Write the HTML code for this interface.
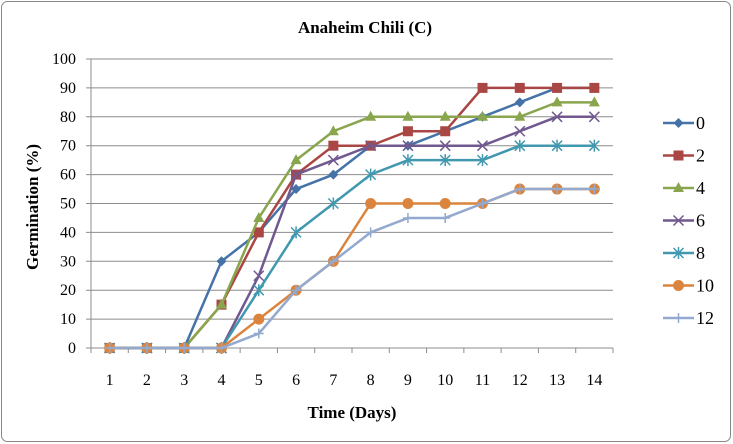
<!DOCTYPE html>
<html><head><meta charset="utf-8"><style>
html,body{margin:0;padding:0;background:#fff;}
svg{display:block;font-family:"Liberation Serif",serif;}
</style></head><body>
<svg id="chart" width="733" height="444" viewBox="0 0 733 444" xmlns="http://www.w3.org/2000/svg">
<rect x="1.5" y="1.5" width="729" height="440" rx="6" fill="#fff" stroke="#888" stroke-width="1"/>
<text x="365" y="33" text-anchor="middle" font-size="17" font-weight="bold">Anaheim Chili (C)</text>
<text transform="translate(38,207) rotate(-90)" text-anchor="middle" font-size="17" font-weight="bold">Germination (%)</text>
<text x="352" y="418" text-anchor="middle" font-size="17" font-weight="bold">Time (Days)</text>
<g id="grid"></g><g id="axes"></g><g id="series"></g><g id="legend"></g>
</svg>
<script>
const days = [1,2,3,4,5,6,7,8,9,10,11,12,13,14];
const yTicks = [0,10,20,30,40,50,60,70,80,90,100];
const seriesNames = ["0","2","4","6","8","10","12"];
const s0  = [0,0,0,30,40,55,60,70,70,75,80,85,90,90];
const s2  = [0,0,0,15,40,60,70,70,75,75,90,90,90,90];
const s4  = [0,0,0,15,45,65,75,80,80,80,80,80,85,85];
const s6  = [0,0,0,0,25,60,65,70,70,70,70,75,80,80];
const s8  = [0,0,0,0,20,40,50,60,65,65,65,70,70,70];
const s10 = [0,0,0,0,10,20,30,50,50,50,50,55,55,55];
const s12 = [0,0,0,0,5,20,30,40,45,45,50,55,55,55];
const allSeries = [s0,s2,s4,s6,s8,s10,s12];
const colors = ["#4572A7","#AA4643","#89A54E","#71588F","#4198AF","#DB843D","#93A9CF"];
const markers = ["diamond","square","triangle","x","star","circle","plus"];

const NS="http://www.w3.org/2000/svg";
const X0=91, X1=613, Y0=348, Y1=59;
const step=(X1-X0)/days.length;
function xPos(i){return X0+step*(i+0.5);}
function yPos(v){return Y0-(v/100)*(Y0-Y1);}
function mk(tag,attrs,parent){const e=document.createElementNS(NS,tag);for(const k in attrs)e.setAttribute(k,attrs[k]);parent.appendChild(e);return e;}

const grid=document.getElementById('grid');
yTicks.forEach(t=>{
  const y=yPos(t);
  if(t>0){const l=mk('line',{x1:X0-5,x2:X1,y1:y,y2:y,stroke:'#8c8c8c','stroke-width':1},grid);
  
  }
  const tx=mk('text',{x:76,y:y+5,'text-anchor':'end','font-size':16},grid);
  tx.textContent=t;
  
  
});
const axes=document.getElementById('axes');
const ya=mk('line',{x1:X0,x2:X0,y1:Y1,y2:Y0,stroke:'#8c8c8c','stroke-width':1},axes);


const xa=mk('line',{x1:X0-5,x2:X1,y1:Y0,y2:Y0,stroke:'#8c8c8c','stroke-width':1},axes);


for(let i=0;i<=days.length;i++){
  const x=X0+step*i;
  const tk=mk('line',{x1:x,x2:x,y1:Y0,y2:Y0+5,stroke:'#8c8c8c'},axes);
  
  
}
days.forEach((d,i)=>{
  const t=mk('text',{x:xPos(i),y:385,'text-anchor':'middle','font-size':16},axes);
  t.textContent=d;
  
  
});

function marker(type,x,y,c,parent){
  const g=mk('g',{},parent);
  if(type==='diamond')mk('polygon',{points:`${x},${y-5} ${x+5},${y} ${x},${y+5} ${x-5},${y}`,fill:c},g);
  else if(type==='square')mk('rect',{x:x-5,y:y-5,width:10,height:10,fill:c},g);
  else if(type==='triangle')mk('polygon',{points:`${x},${y-6} ${x+5.5},${y+4} ${x-5.5},${y+4}`,fill:c},g);
  else if(type==='x'){mk('path',{d:`M${x-5} ${y-5}L${x+5} ${y+5}M${x-5} ${y+5}L${x+5} ${y-5}`,stroke:c,'stroke-width':1.5},g);}
  else if(type==='star'){mk('path',{d:`M${x-5} ${y-5}L${x+5} ${y+5}M${x-5} ${y+5}L${x+5} ${y-5}M${x} ${y-6}L${x} ${y+6}`,stroke:c,'stroke-width':1.5},g);}
  else if(type==='circle')mk('circle',{cx:x,cy:y,r:5.5,fill:c},g);
  else if(type==='plus'){mk('path',{d:`M${x-5} ${y}L${x+5} ${y}M${x} ${y-5}L${x} ${y+5}`,stroke:c,'stroke-width':1.5},g);}
  return g;
}
const sg=document.getElementById('series');
allSeries.forEach((vals,si)=>{
  const g=mk('g',{},sg);
  
  
  const pts=vals.map((v,i)=>xPos(i)+','+yPos(v)).join(' ');
  const pl=mk('polyline',{points:pts,fill:'none',stroke:colors[si],'stroke-width':2.5},g);
  
  
  vals.forEach((v,i)=>{
    const m=marker(markers[si],xPos(i),yPos(v),colors[si],g);
    
    
  });
});
const lg=document.getElementById('legend');
seriesNames.forEach((n,si)=>{
  const y=123+si*32.5;
  const g=mk('g',{},lg);
  
  
  mk('line',{x1:663,x2:694,y1:y,y2:y,stroke:colors[si],'stroke-width':2.5},g);
  marker(markers[si],678.5,y,colors[si],g);
  const t=mk('text',{x:696,y:y+6,'font-size':18},g);
  t.textContent=n;
});
</script>
</body></html>
